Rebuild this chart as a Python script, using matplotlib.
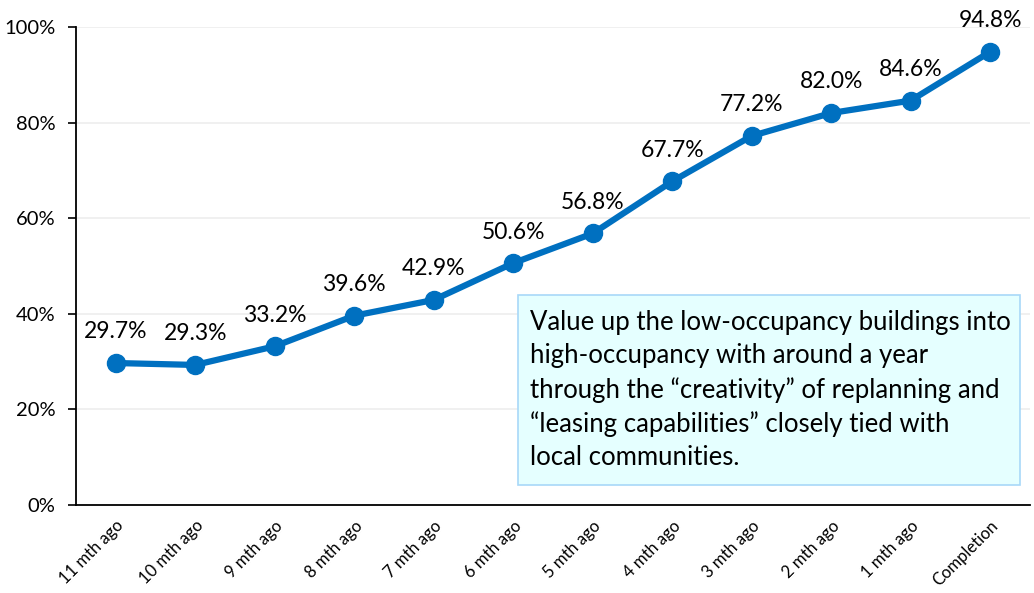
import matplotlib.pyplot as plt
import matplotlib
from matplotlib.patches import Rectangle

matplotlib.rcParams['font.family'] = ['Lato', 'DejaVu Sans']

categories = ['11 mth ago', '10 mth ago', '9 mth ago', '8 mth ago', '7 mth ago', '6 mth ago',
              '5 mth ago', '4 mth ago', '3 mth ago', '2 mth ago', '1 mth ago', 'Completion']
occupancy = [29.7, 29.3, 33.2, 39.6, 42.9, 50.6, 56.8, 67.7, 77.2, 82.0, 84.6, 94.8]
note = ("Value up the low-occupancy buildings into\n"
        "high-occupancy with around a year\n"
        "through the \u201ccreativity\u201d of replanning and\n"
        "\u201cleasing capabilities\u201d closely tied with\n"
        "local communities.")

fig = plt.figure(figsize=(10.34, 5.93), dpi=100)
ax = fig.add_axes([0.0735, 0.1484, 0.9225, 0.8061])

x = range(len(categories))
ax.plot(x, occupancy, color='#0070C0', linewidth=4.5, marker='o', markersize=13, zorder=3)

for i, v in zip(x, occupancy):
    ax.text(i, v + 4.3, '%.1f%%' % v, ha='center', va='bottom', fontsize=16.5)

ax.set_xlim(-0.5, len(categories) - 0.5)
ax.set_ylim(0, 100)
ax.set_yticks(range(0, 101, 20))
ax.set_yticklabels(['%d%%' % t for t in range(0, 101, 20)], fontsize=14.5)
ax.set_xticks(list(x))
ax.set_xticklabels(categories, rotation=45, ha='right', rotation_mode='anchor', fontsize=12)
ax.tick_params(axis='x', length=0, pad=9)
ax.tick_params(axis='y', length=6, width=1.2, pad=9)
ax.grid(axis='y', color='#EEEEEE', linewidth=1.2)
ax.set_axisbelow(True)
for s in ['top', 'right']:
    ax.spines[s].set_visible(False)
for s in ['left', 'bottom']:
    ax.spines[s].set_linewidth(1.3)

# 文本框
ax.add_patch(Rectangle((0.463, 0.042), 0.5265, 0.397, transform=ax.transAxes,
                       facecolor='#E5FFFF', edgecolor='#A8D8F8', linewidth=1.2, zorder=4))
ax.text(0.4755, 0.2405, note, transform=ax.transAxes, fontsize=18.5, va='center', ha='left',
        linespacing=1.4, zorder=5)

fig.savefig('out.png', dpi=100)
